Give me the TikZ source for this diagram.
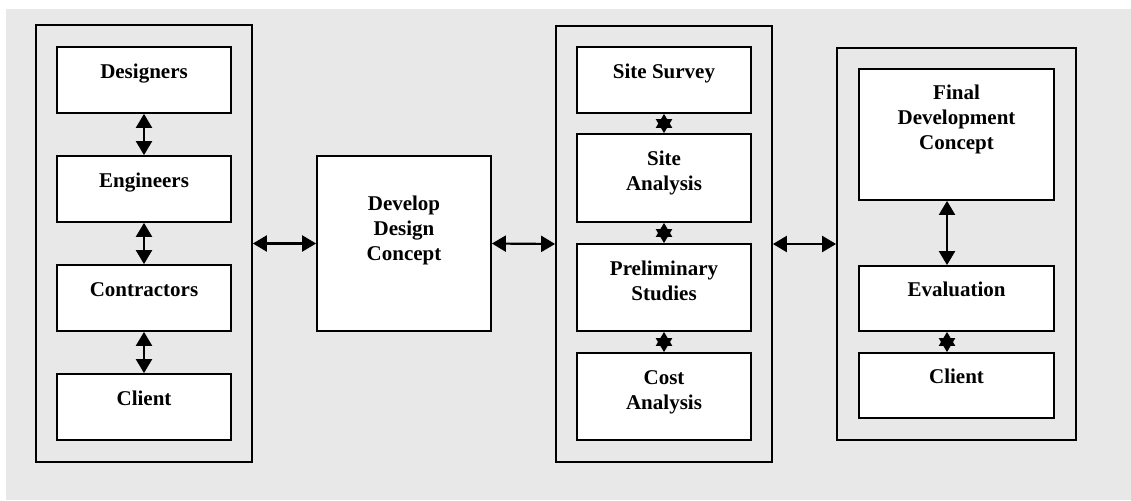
\documentclass[tikz,border=0pt]{standalone}
\usepackage{fontspec}
\setmainfont{Liberation Serif}
\usetikzlibrary{arrows.meta}
\definecolor{bggray}{RGB}{232,232,232}
\tikzset{
  outerbox/.style={draw=black, line width=1.8pt, inner sep=0pt},
  innerbox/.style={draw=black, fill=white, line width=1.8pt, inner sep=0pt, minimum width=174pt},
  txt/.style={font=\fontsize{21}{25}\selectfont\bfseries, align=center, inner sep=0pt, anchor=north},
  arr/.style={line width=2.2pt, {Triangle[length=14pt,width=16pt]}-{Triangle[length=14pt,width=16pt]}}
}
\begin{document}
\begin{tikzpicture}[x=1pt,y=-1pt]
\useasboundingbox (0,0) rectangle (1131,500);
\fill[bggray] (6,9) rectangle (1131,500);

% left group
\node[outerbox, minimum width=216pt, minimum height=437pt] (lg) at (144,243.5) {};
\node[innerbox, minimum height=66pt] (des) at (144,80) {};
\node[innerbox, minimum height=66pt] (eng) at (144,189) {};
\node[innerbox, minimum height=66pt] (con) at (144,298) {};
\node[innerbox, minimum height=66pt] (cli) at (144,407) {};
\node[txt] (desT) at ([yshift=-14.5pt]des.north) {\strut Designers};
\node[txt] (engT) at ([yshift=-14.5pt]eng.north) {\strut Engineers};
\node[txt] (conT) at ([yshift=-14.5pt]con.north) {\strut Contractors};
\node[txt] (cliT) at ([yshift=-14.5pt]cli.north) {\strut Client};

% develop
\node[innerbox, minimum height=175pt] (dev) at (404,243.5) {};
\node[txt] (devT) at ([yshift=-37.5pt]dev.north) {\strut Develop\\Design\\Concept};

% middle group
\node[outerbox, minimum width=216pt, minimum height=436pt] (mg) at (664,244) {};
\node[innerbox, minimum height=66pt] (ss) at (664,80) {};
\node[innerbox, minimum height=88pt] (sa) at (664,178) {};
\node[innerbox, minimum height=87pt] (ps) at (664,287.5) {};
\node[innerbox, minimum height=87pt] (ca) at (664,396.5) {};
\node[txt] (ssT) at ([yshift=-14.5pt]ss.north) {\strut Site Survey};
\node[txt] (saT) at ([yshift=-14.5pt]sa.north) {\strut Site\\Analysis};
\node[txt] (psT) at ([yshift=-14.5pt]ps.north) {\strut Preliminary\\Studies};
\node[txt] (caT) at ([yshift=-14.5pt]ca.north) {\strut Cost\\Analysis};

% right group
\node[outerbox, minimum width=239pt, minimum height=392pt] (rg) at (956.5,244) {};
\node[innerbox, minimum width=195pt, minimum height=131pt] (fin) at (956.5,134.5) {};
\node[innerbox, minimum width=195pt, minimum height=65pt] (eva) at (956.5,298.5) {};
\node[innerbox, minimum width=195pt, minimum height=65pt] (cl2) at (956.5,385.5) {};
\node[txt] (finT) at ([yshift=-13.5pt]fin.north) {\strut Final\\Development\\Concept};
\node[txt] (evaT) at ([yshift=-13.5pt]eva.north) {\strut Evaluation};
\node[txt] (cl2T) at ([yshift=-13.5pt]cl2.north) {\strut Client};

% connectors
\draw[arr] (des.south) -- (eng.north);
\draw[arr] (eng.south) -- (con.north);
\draw[arr] (con.south) -- (cli.north);
\draw[arr] (lg.east) -- (dev.west);
\draw[arr] (dev.east) -- (mg.west);
\draw[arr] (mg.east) -- (rg.west);
\draw[arr] (ss.south) -- (sa.north);
\draw[arr] (sa.south) -- (ps.north);
\draw[arr] (ps.south) -- (ca.north);
\draw[arr] ([xshift=-9.5pt]fin.south) -- ([xshift=-9.5pt]eva.north);
\draw[arr] ([xshift=-9.5pt]eva.south) -- ([xshift=-9.5pt]cl2.north);
\end{tikzpicture}
\end{document}
